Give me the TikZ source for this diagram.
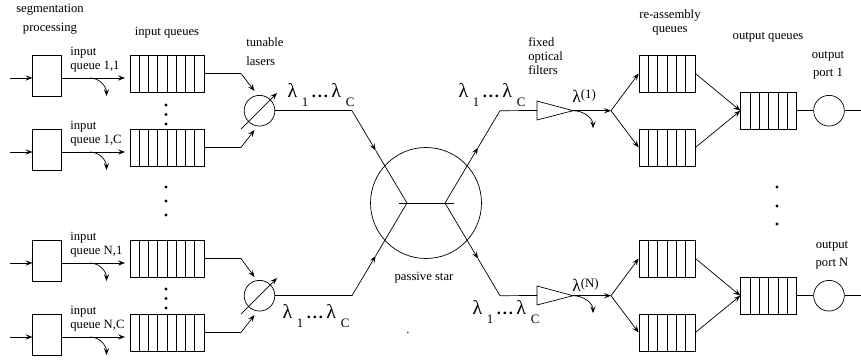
\documentclass[tikz,border=0pt]{standalone}
\usepackage{fontspec}
\setmainfont{Liberation Serif}
\usetikzlibrary{arrows.meta, calc}
\newcommand{\lamrange}{{\fontsize{17}{17}\selectfont λ}\hspace{4pt}\raisebox{-7pt}{1}\hspace{3pt}{\fontsize{14}{14}\selectfont\textbf{.\hspace{1.6pt}.\hspace{1.6pt}.}}\hspace{3pt}{\fontsize{17}{17}\selectfont λ}\hspace{4pt}\raisebox{-7pt}{C}}

\begin{document}
\begin{tikzpicture}[
  x=0.03cm, y=-0.03cm,
  line width=0.6pt,
  lab/.style={inner sep=0pt, align=center, font=\fontsize{10.8}{12}\selectfont},
  labl/.style={lab, align=left, anchor=west},
  lam/.style={inner sep=0pt, font=\fontsize{11}{12}\selectfont},
  procb/.style={draw, minimum width=0.85cm, minimum height=1.25cm, inner sep=0pt},
  qcells/.style={path picture={\foreach \c in {1,...,#1}{
    \draw ($(path picture bounding box.south west)!\c/(#1+1)!(path picture bounding box.south east)$)
      -- ($(path picture bounding box.north west)!\c/(#1+1)!(path picture bounding box.north east)$);}}},
  inq/.style={draw, minimum width=2.22cm, minimum height=1.11cm, inner sep=0pt, qcells=7},
  outq/.style={draw, minimum width=1.68cm, minimum height=1.11cm, inner sep=0pt, qcells=5},
  ring/.style={draw, circle, minimum size=0.92cm, inner sep=0pt},
  spot/.style={circle, fill, inner sep=0pt, minimum size=2.6pt},
  arr/.style={-{Stealth[length=6pt, width=4.5pt, inset=2.5pt]}},
]
  \useasboundingbox (0,0) rectangle (861,360);

  % ingress side
  \node[procb] (pr1) at (47,76) {};
  \node[procb] (pr2) at (47,150) {};
  \node[procb] (pr3) at (47,261) {};
  \node[procb] (pr4) at (47,335) {};
  \node[inq] (q1) at (167,73.5) {};
  \node[inq] (q2) at (167,147.5) {};
  \node[inq] (q3) at (167,258.5) {};
  \node[inq] (q4) at (167,332.5) {};
  \coordinate (ln1) at (10,78);
  \coordinate (ln2) at (10,152);
  \coordinate (ln3) at (10,263);
  \coordinate (ln4) at (10,337);
  \foreach \k in {1,2,3,4}{
    \draw[arr] (ln\k) -- (pr\k.west |- ln\k);
    \draw[arr, shorten >=1.4mm] (pr\k.east |- ln\k) -- (q\k.west |- ln\k);
  }
  \coordinate (dr1) at (90,78);
  \coordinate (dr2) at (90,152);
  \coordinate (dr3) at (90,263);
  \coordinate (dr4) at (90,337);
  \foreach \k in {1,2,3,4}
    \draw[arr] (dr\k) to[out=0, in=90] ++(16.5,18);

  % tunable lasers
  \node[ring] (las1) at (259.5,110.7) {};
  \node[ring] (las2) at (259.5,295.7) {};
  \coordinate (bq1) at (241,73.5);
  \coordinate (bq2) at (241,147.5);
  \coordinate (bq3) at (241,258.5);
  \coordinate (bq4) at (241,332.5);
  \coordinate (tp1) at (254.5,91);
  \coordinate (tp2) at (254.5,130);
  \coordinate (tp3) at (254.5,277);
  \coordinate (tp4) at (254.5,315);
  \foreach \k in {1,2,3,4}{
    \draw (q\k.east) -- (bq\k);
    \draw[arr] (bq\k) -- (tp\k);
  }
  \coordinate (sl1) at (241,129);
  \coordinate (sl2) at (277,93);
  \coordinate (sl3) at (241,314);
  \coordinate (sl4) at (277,278);
  \draw[arr] (sl1) -- (sl2);
  \draw[arr] (sl3) -- (sl4);

  % passive star
  \node[draw, circle, minimum size=3.33cm, inner sep=0pt] (star) at (426,203) {};
  \coordinate (jl) at (407,203);
  \coordinate (jr) at (445,203);
  \coordinate (hl) at (398.7,203);
  \coordinate (hr) at (454,203);
  \draw (hl) -- (hr);
  \coordinate (tl) at (352,110.7);
  \coordinate (bl) at (352,295.7);
  \coordinate (tr) at (500,110.7);
  \coordinate (br) at (500,295.7);
  \coordinate (ml1) at ($(tl)!0.43!(jl)$);
  \coordinate (ml2) at ($(bl)!0.43!(jl)$);
  \coordinate (mr1) at ($(jr)!0.6!(tr)$);
  \coordinate (mr2) at ($(jr)!0.6!(br)$);
  \draw (las1) -- (tl);
  \draw (las2) -- (bl);
  \draw[arr] (tl) -- (ml1);
  \draw[arr] (bl) -- (ml2);
  \draw (ml1) -- (jl);
  \draw (ml2) -- (jl);
  \draw[arr] (jr) -- (mr1);
  \draw[arr] (jr) -- (mr2);
  \draw (mr1) -- (tr);
  \draw (mr2) -- (br);

  % fixed filters
  \coordinate (fa1) at (537,101);
  \coordinate (fb1) at (537,120);
  \coordinate (fc1) at (573,110.7);
  \coordinate (fa2) at (537,286);
  \coordinate (fb2) at (537,305);
  \coordinate (fc2) at (573,295.7);
  \coordinate (fk1) at (611,110.7);
  \coordinate (fk2) at (611,295.7);
  \foreach \k in {1,2}{
    \draw (fa\k) -- (fb\k) -- (fc\k) -- cycle;
    \draw[arr] (fc\k) to[out=0, in=90] ++(20,17.5);
    \draw[arr] (fc\k) -- (fk\k);
  }
  \draw (tr) -- ($(fa1)!0.5!(fb1)$);
  \draw (br) -- ($(fa2)!0.5!(fb2)$);

  % egress side
  \node[outq] (ra1) at (667,73.5) {};
  \node[outq] (ra2) at (667,147.5) {};
  \node[outq] (ra3) at (667,258.5) {};
  \node[outq] (ra4) at (667,332.5) {};
  \node[outq] (oq1) at (768.7,110.7) {};
  \node[outq] (oq2) at (768.7,295.7) {};
  \node[ring] (op1) at (829,110.7) {};
  \node[ring] (op2) at (829,295.7) {};
  \coordinate (ex1) at (861,110.7);
  \coordinate (ex2) at (861,295.7);
  \draw[arr] (fk1) -- (ra1.west);
  \draw[arr] (fk1) -- (ra2.west);
  \draw[arr] (fk2) -- (ra3.west);
  \draw[arr] (fk2) -- (ra4.west);
  \draw[arr] (ra1.east) -- (oq1.west);
  \draw[arr] (ra2.east) -- (oq1.west);
  \draw[arr] (ra3.east) -- (oq2.west);
  \draw[arr] (ra4.east) -- (oq2.west);
  \draw (oq1) -- (op1) -- (ex1);
  \draw (oq2) -- (op2) -- (ex2);

  % dots between the queues
  \foreach \n/\x/\y in {a/166/105, b/166/114.5, c/166/124, d/166/187, e/166/201, f/166/215,
      g/166/289, h/166/298.5, i/166/308, j/777/187, k/777/206, l/777/224}
    \node[spot] (dot\n) at (\x,\y) {};
  \node[lab] (stray) at (408,333) {.};

  % labels
  \node[lab] (seg) at (50,19.5) {segmentation\\[4pt]processing};
  \node[lab] (inql) at (167,33) {input queues};
  \node[labl] (tun) at (246,51.5) {tunable\\[4pt]lasers};
  \node[labl] (iq1) at (70,59.5) {input\\queue 1,1};
  \node[labl] (iq2) at (70,133.5) {input\\queue 1,C};
  \node[labl] (iq3) at (70,244.5) {input\\queue N,1};
  \node[labl] (iq4) at (70,318.5) {input\\queue N,C};
  \node[lam] (wl1) at (321,95) {\lamrange};
  \node[lam] (wl2) at (316,316) {\lamrange};
  \node[lam] (wl3) at (492,95) {\lamrange};
  \node[lam] (wl4) at (506,312) {\lamrange};
  \node[labl] (ffl) at (528,56) {fixed\\optical\\filters};
  \node[lam, anchor=west] (lp1) at (572,96) {{\fontsize{15}{15}\selectfont λ}\raisebox{3pt}{(1)}};
  \node[lam, anchor=west] (lp2) at (572,285) {{\fontsize{15}{15}\selectfont λ}\raisebox{3pt}{(N)}};
  \node[lab] (psl) at (424,278) {passive star};
  \node[lab] (ral) at (670,22) {re-assembly\\queues};
  \node[lab] (oql) at (768,37) {output queues};
  \node[lab] (po1) at (828,65) {output\\[3pt]port 1};
  \node[lab] (po2) at (832,255) {output\\[3pt]port N};
\end{tikzpicture}
\end{document}
